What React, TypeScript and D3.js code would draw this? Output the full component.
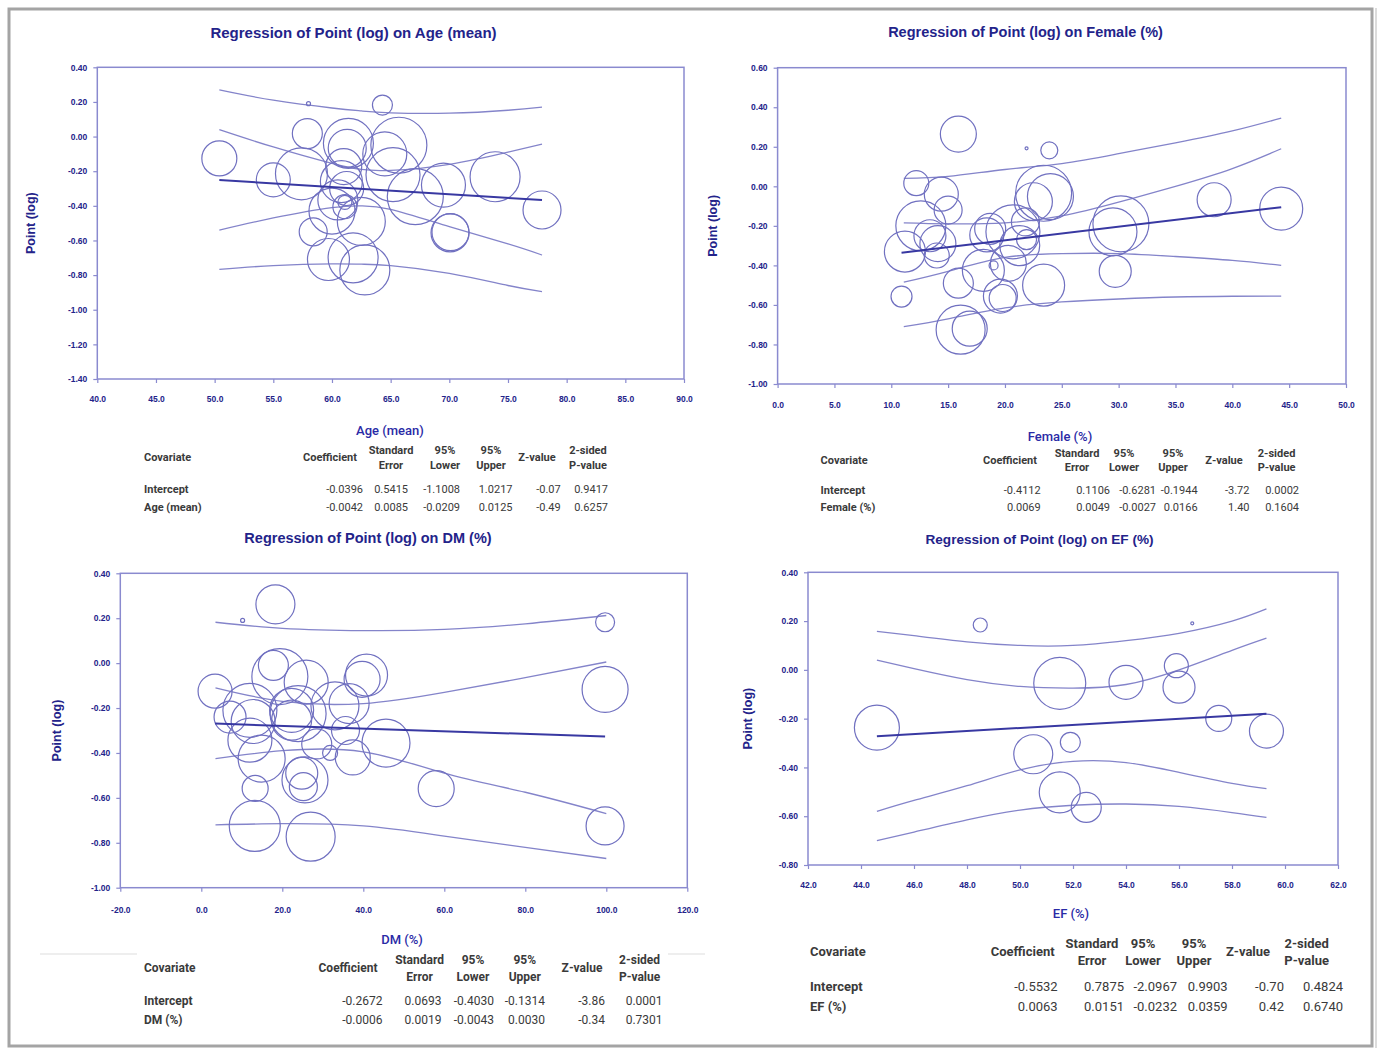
import React, { useEffect, useRef } from 'react';
import * as d3 from 'd3';

// studies: [covariate value, Point (log), weight]
const ageStudies = [
  [50.4, -0.126, 17.5], [58.0, 0.19, 2], [64.3, 0.182, 10], [57.9, 0.017, 15],
  [61.4, -0.039, 25], [61.3, -0.068, 19], [65.7, -0.05, 28], [64.5, -0.1, 22],
  [65.2, -0.22, 27], [67.1, -0.347, 28], [69.5, -0.28, 22], [70.06, -0.556, 19],
  [70.1, -0.552, 18.5], [55.0, -0.25, 17], [57.4, -0.215, 26], [61.0, -0.174, 18],
  [60.8, -0.26, 21], [61.25, -0.3, 17], [60.5, -0.366, 20], [61.1, -0.405, 12],
  [61.1, -0.38, 7], [60.0, -0.43, 23], [62.5, -0.49, 24], [58.4, -0.55, 14],
  [59.7, -0.71, 21], [61.8, -0.7, 25], [62.8, -0.77, 25], [73.9, -0.232, 25],
  [77.9, -0.424, 19],
];
const ageBandX = [50.4, 55, 60, 62.5, 65, 70, 75, 77.9];
const ageOuterUp = [0.27, 0.21, 0.165, 0.148, 0.137, 0.135, 0.152, 0.17];
const ageOuterLo = [-0.767, -0.745, -0.735, -0.737, -0.745, -0.79, -0.86, -0.896];
const ageInnerUp = [0.04, -0.06, -0.155, -0.19, -0.195, -0.16, -0.09, -0.043];
const ageInnerLo = [-0.54, -0.47, -0.41, -0.4, -0.42, -0.52, -0.62, -0.684];
const ageRows = [
  ['Intercept', '-0.0396', '0.5415', '-1.1008', '1.0217', '-0.07', '0.9417'],
  ['Age (mean)', '-0.0042', '0.0085', '-0.0209', '0.0125', '-0.49', '0.6257'],
];

const femaleStudies = [
  [15.9, 0.264, 18], [21.9, 0.192, 1.5], [23.9, 0.182, 8.5], [12.2, 0.016, 12.5],
  [14.4, -0.04, 17], [15.0, -0.12, 14], [12.6, -0.2, 25], [11.2, -0.33, 20.5],
  [13.4, -0.25, 16], [14.1, -0.29, 18], [14.0, -0.35, 12.5], [15.9, -0.49, 15],
  [10.9, -0.558, 10.5], [16.1, -0.725, 24.5], [16.9, -0.72, 17.5], [18.4, -0.246, 17],
  [18.7, -0.215, 15.5], [18.1, -0.425, 21], [19.0, -0.4, 4.5], [19.6, -0.555, 17],
  [19.8, -0.565, 13.5], [23.4, -0.5, 21], [20.7, -0.23, 27], [21.3, -0.3, 20],
  [21.9, -0.27, 10], [20.3, -0.39, 18], [23.4, -0.035, 28], [24.0, -0.052, 23],
  [22.5, -0.078, 19], [21.8, -0.18, 14], [29.5, -0.23, 24], [30.2, -0.19, 28],
  [29.7, -0.43, 16], [38.4, -0.068, 17], [44.3, -0.113, 21.5],
];
const femaleBandX = [11.1, 15, 20, 25, 30, 35, 40, 44.3];
const femaleOuterUp = [0.04, 0.05, 0.085, 0.115, 0.165, 0.22, 0.28, 0.345];
const femaleOuterLo = [-0.71, -0.67, -0.615, -0.585, -0.57, -0.56, -0.556, -0.555];
const femaleInnerUp = [-0.185, -0.19, -0.185, -0.15, -0.08, 0.0, 0.09, 0.19];
const femaleInnerLo = [-0.485, -0.43, -0.36, -0.34, -0.34, -0.355, -0.375, -0.4];
const femaleRows = [
  ['Intercept', '-0.4112', '0.1106', '-0.6281', '-0.1944', '-3.72', '0.0002'],
  ['Female (%)', '0.0069', '0.0049', '-0.0027', '0.0166', '1.40', '0.1604'],
];

const dmStudies = [
  [10.2, 0.19, 2], [18.3, 0.262, 19.5], [99.7, 0.182, 9.5], [99.7, -0.117, 23],
  [99.7, -0.725, 19], [58.0, -0.559, 18], [3.4, -0.125, 17], [13.2, -0.725, 25.5],
  [27.0, -0.773, 24.5], [13.3, -0.558, 13], [45.6, -0.356, 24], [40.8, -0.053, 21],
  [39.7, -0.072, 18], [37.4, -0.42, 17.5], [35.6, -0.3, 14], [31.8, -0.4, 7.5],
  [7.1, -0.24, 16], [12.0, -0.21, 27], [12.8, -0.26, 22], [12.0, -0.343, 22],
  [14.9, -0.425, 23.5], [17.8, -0.01, 15], [19.4, -0.06, 28], [25.9, -0.085, 22],
  [22.3, -0.21, 22], [23.9, -0.225, 28], [22.3, -0.254, 20], [33.0, -0.19, 24],
  [36.5, -0.18, 20], [28.5, -0.36, 15], [24.8, -0.49, 16], [25.6, -0.52, 23],
  [25.2, -0.55, 14],
];
const dmBandX = [3.5, 20, 40, 60, 80, 100];
const dmOuterUp = [0.182, 0.155, 0.145, 0.15, 0.175, 0.212];
const dmOuterLo = [-0.72, -0.715, -0.725, -0.77, -0.82, -0.87];
const dmInnerUp = [-0.11, -0.17, -0.18, -0.13, -0.065, 0.005];
const dmInnerLo = [-0.425, -0.39, -0.395, -0.49, -0.575, -0.67];
const dmRows = [
  ['Intercept', '-0.2672', '0.0693', '-0.4030', '-0.1314', '-3.86', '0.0001'],
  ['DM (%)', '-0.0006', '0.0019', '-0.0043', '0.0030', '-0.34', '0.7301'],
];

const efStudies = [
  [48.5, 0.184, 7], [56.5, 0.191, 1.5], [51.5, -0.055, 26], [54.0, -0.051, 17],
  [55.9, 0.017, 12], [56.0, -0.071, 16], [57.5, -0.199, 13], [59.3, -0.251, 17],
  [44.6, -0.237, 22.5], [50.5, -0.346, 19.5], [51.9, -0.297, 10], [51.5, -0.502, 20.5],
  [52.5, -0.564, 15],
];
const efBandX = [44.6, 46, 48, 50, 52, 54, 56, 58, 59.3];
const efOuterUp = [0.158, 0.14, 0.115, 0.1, 0.1, 0.12, 0.15, 0.2, 0.25];
const efOuterLo = [-0.7, -0.665, -0.615, -0.575, -0.555, -0.55, -0.56, -0.585, -0.605];
const efInnerUp = [0.04, 0.005, -0.04, -0.068, -0.075, -0.06, 0.0, 0.08, 0.13];
const efInnerLo = [-0.58, -0.535, -0.475, -0.41, -0.375, -0.38, -0.42, -0.465, -0.487];
const efRows = [
  ['Intercept', '-0.5532', '0.7875', '-2.0967', '0.9903', '-0.70', '0.4824'],
  ['EF (%)', '0.0063', '0.0151', '-0.0232', '0.0359', '0.42', '0.6740'],
];

const headTop = ['', 'Standard', '95%', '95%', '', '2-sided'];
const headBottom = ['', 'Error', 'Lower', 'Upper', '', 'P-value'];
const headSingle = ['Coefficient', '', '', '', 'Z-value', ''];

const NAVY = '#23238a';
const FRAME = '#8a8acf';
const CIRC = '#7070c0';
const BAND = '#8484ca';
const REG = '#3838a2';
const TXT = '#3a3a3a';

const panels = [
  {
    title: 'Regression of Point (log) on Age (mean)', xName: 'Age (mean)',
    studies: ageStudies, bandX: ageBandX, bands: [ageOuterUp, ageOuterLo, ageInnerUp, ageInnerLo], rows: ageRows,
    xDomain: [40, 90], xTicks: d3.range(40, 90.1, 5), yDomain: [-1.4, 0.4], yTicks: d3.range(-1.4, 0.41, 0.2),
    left: 97.3, right: 684, top: 67.3, bottom: 379, titleX: 353.5, titleY: 32, titleSize: 15,
    xNameX: 390, xNameY: 430, yNameX: 31, xPad: 13,
    tbl: { cov: 144, heads: [330, 391, 445, 491, 537, 588], rights: [363, 408, 460, 512.5, 560.7, 608], y: [450, 465, 457, 489, 507], fs: 11 },
  },
  {
    title: 'Regression of Point (log) on Female (%)', xName: 'Female (%)',
    studies: femaleStudies, bandX: femaleBandX, bands: [femaleOuterUp, femaleOuterLo, femaleInnerUp, femaleInnerLo], rows: femaleRows,
    xDomain: [0, 50], xTicks: d3.range(0, 50.1, 5), yDomain: [-1.0, 0.6], yTicks: d3.range(-1.0, 0.61, 0.2),
    left: 777.6, right: 1346, top: 67.7, bottom: 384, titleX: 1025.5, titleY: 32, titleSize: 14.5,
    xNameX: 1060, xNameY: 436, yNameX: 713, xPad: 14,
    tbl: { cov: 820.6, heads: [1010, 1077, 1124, 1173, 1224, 1276.6], rights: [1040.7, 1110, 1156, 1197.6, 1249.5, 1299], y: [453, 467, 460, 490, 507], fs: 11 },
  },
  {
    title: 'Regression of Point (log) on DM (%)', xName: 'DM (%)',
    studies: dmStudies, bandX: dmBandX, bands: [dmOuterUp, dmOuterLo, dmInnerUp, dmInnerLo], rows: dmRows,
    xDomain: [-20, 120], xTicks: d3.range(-20, 120.1, 20), yDomain: [-1.0, 0.4], yTicks: d3.range(-1.0, 0.41, 0.2),
    left: 120.3, right: 687.3, top: 573.3, bottom: 887.7, titleX: 368, titleY: 538, titleSize: 14.5,
    xNameX: 402, xNameY: 939, yNameX: 57, xPad: 15,
    tbl: { cov: 144, heads: [348, 419.6, 473, 524.8, 582, 639.6], rights: [382.4, 441.4, 494, 545, 605, 662.6], y: [960, 977, 968, 1001, 1020], fs: 12 },
  },
  {
    title: 'Regression of Point (log) on EF (%)', xName: 'EF (%)',
    studies: efStudies, bandX: efBandX, bands: [efOuterUp, efOuterLo, efInnerUp, efInnerLo], rows: efRows,
    xDomain: [42, 62], xTicks: d3.range(42, 62.1, 2), yDomain: [-0.8, 0.4], yTicks: d3.range(-0.8, 0.41, 0.2),
    left: 808, right: 1338, top: 572.3, bottom: 865, titleX: 1039.5, titleY: 539, titleSize: 13.6,
    xNameX: 1071, xNameY: 913, yNameX: 748, xPad: 13,
    tbl: { cov: 810, heads: [1022.7, 1092, 1143, 1194, 1248, 1306.7], rights: [1057.7, 1124, 1177, 1227.7, 1284, 1343], y: [943, 960, 951, 986, 1006], fs: 13 },
  },
];

function styleAxis(g: any) {
  g.select('.domain').remove();
  g.attr('font-family', 'Liberation Sans, Arial, sans-serif').attr('font-size', 8.5).attr('font-weight', 'bold');
  g.selectAll('line').attr('stroke', FRAME).attr('stroke-width', 1.2);
  g.selectAll('text').attr('fill', NAVY);
}

function Panel({ p }: { p: any }) {
  const xRef = useRef<SVGGElement>(null);
  const yRef = useRef<SVGGElement>(null);
  const x = d3.scaleLinear().domain(p.xDomain).range([p.left, p.right]);
  const y = d3.scaleLinear().domain(p.yDomain).range([p.bottom, p.top]);
  const r = d3.scaleLinear().domain([0, 30]).range([0, 30]);

  useEffect(() => {
    const gx = d3.select(xRef.current);
    gx.call(d3.axisBottom(x).tickValues(p.xTicks).tickFormat((d: any) => d.toFixed(1)).tickSize(4).tickSizeOuter(0).tickPadding(p.xPad));
    styleAxis(gx);
    const gy = d3.select(yRef.current);
    gy.call(d3.axisLeft(y).tickValues(p.yTicks).tickFormat((d: any) => (Math.abs(d) < 1e-9 ? 0 : d).toFixed(2)).tickSize(4).tickSizeOuter(0).tickPadding(6));
    styleAxis(gy);
  }, []);

  const band = d3.line<number>().x((_, i) => x(p.bandX[i])).y((d) => y(d)).curve(d3.curveNatural);
  const xs = p.studies.map((s: number[]) => s[0]);
  const x0 = d3.min(xs) as number;
  const x1 = d3.max(xs) as number;
  const b0 = parseFloat(p.rows[0][1]);
  const b1 = parseFloat(p.rows[1][1]);
  const t = p.tbl;
  const midY = (p.top + p.bottom) / 2;

  return (
    <g>
      <text x={p.titleX} y={p.titleY} textAnchor="middle" dominantBaseline="central" fill={NAVY}
        fontFamily="Liberation Sans, Arial, sans-serif" fontWeight="bold" fontSize={p.titleSize}>{p.title}</text>
      <rect x={p.left} y={p.top} width={p.right - p.left} height={p.bottom - p.top} fill="none" stroke={FRAME} strokeWidth={1.5} />
      <g ref={xRef} transform={`translate(0,${p.bottom})`} />
      <g ref={yRef} transform={`translate(${p.left},0)`} />
      <text transform={`translate(${p.yNameX},${midY}) rotate(-90)`} textAnchor="middle" dominantBaseline="central" fill={NAVY}
        fontFamily="Liberation Sans, Arial, sans-serif" fontWeight="bold" fontSize={12.5}>Point (log)</text>
      {p.bands.map((b: number[], i: number) => (
        <path key={i} d={band(b) as string} fill="none" stroke={BAND} strokeWidth={1.3} />
      ))}
      {p.studies.map((s: number[], i: number) => (
        <circle key={i} cx={x(s[0])} cy={y(s[1])} r={r(s[2])} fill="none" stroke={CIRC} strokeWidth={1.2} />
      ))}
      <line x1={x(x0)} y1={y(b0 + b1 * x0)} x2={x(x1)} y2={y(b0 + b1 * x1)} stroke={REG} strokeWidth={2} />
      <text x={p.xNameX} y={p.xNameY} textAnchor="middle" dominantBaseline="central" fill="#2a2aa6"
        fontFamily="Roboto, sans-serif" fontWeight={500} fontSize={13}>{p.xName}</text>
      <g fontFamily="Roboto, sans-serif" fontSize={t.fs} fill={TXT}>
        <g fontWeight={700}>
          <text x={t.cov} y={t.y[2]} dominantBaseline="central">Covariate</text>
          {headTop.map((h, i) => h && <text key={'a' + i} x={t.heads[i]} y={t.y[0]} textAnchor="middle" dominantBaseline="central">{h}</text>)}
          {headBottom.map((h, i) => h && <text key={'b' + i} x={t.heads[i]} y={t.y[1]} textAnchor="middle" dominantBaseline="central">{h}</text>)}
          {headSingle.map((h, i) => h && <text key={'c' + i} x={t.heads[i]} y={t.y[2]} textAnchor="middle" dominantBaseline="central">{h}</text>)}
          {p.rows.map((row: string[], ri: number) => (
            <text key={ri} x={t.cov} y={t.y[3 + ri]} dominantBaseline="central">{row[0]}</text>
          ))}
        </g>
        {p.rows.map((row: string[], ri: number) => (
          <g key={ri} fontWeight={400}>
            {row.slice(1).map((v, ci) => (
              <text key={ci} x={t.rights[ci]} y={t.y[3 + ri]} textAnchor="end" dominantBaseline="central">{v}</text>
            ))}
          </g>
        ))}
      </g>
    </g>
  );
}

export default function App() {
  return (
    <svg width={1377} height={1049} style={{ position: 'absolute', left: 0, top: 0, background: '#fff' }}>
      <rect x={0} y={0} width={1377} height={1049} fill="#fff" />
      <rect x={9} y={9} width={1363} height={1037} fill="none" stroke="#a4a4a4" strokeWidth={3} />
      <line x1={1376} y1={8} x2={1376} y2={1048} stroke="#d0d0d0" strokeWidth={1.5} />
      <line x1={40} y1={954} x2={137} y2={954} stroke="#dddddd" strokeWidth={1} />
      <line x1={668} y1={954} x2={705} y2={954} stroke="#dddddd" strokeWidth={1} />
      {panels.map((p, i) => <Panel key={i} p={p} />)}
    </svg>
  );
}
